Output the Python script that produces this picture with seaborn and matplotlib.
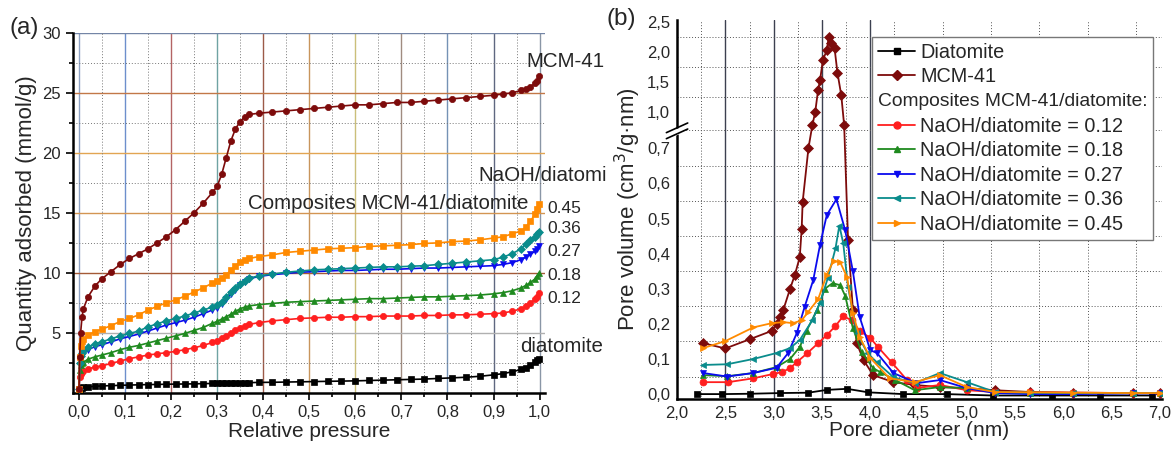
import numpy as np
import matplotlib
matplotlib.use("Agg")
import matplotlib.pyplot as plt
from matplotlib.ticker import FuncFormatter, FixedLocator
from matplotlib.lines import Line2D
from matplotlib.patches import Rectangle
import seaborn as sns

# ---------------- (a) N2 isotherms ----------------
p_rel = [0.0005, 0.002, 0.004, 0.007, 0.01, 0.02, 0.035, 0.05, 0.07, 0.09, 0.11, 0.13, 0.15, 0.17,
         0.19, 0.21, 0.23, 0.25, 0.27, 0.29, 0.30, 0.31, 0.32, 0.33, 0.34, 0.35, 0.36, 0.37, 0.39,
         0.42, 0.45, 0.48, 0.51, 0.54, 0.57, 0.60, 0.63, 0.66, 0.69, 0.72, 0.75, 0.78, 0.81, 0.84,
         0.87, 0.90, 0.92, 0.94, 0.96, 0.97, 0.98, 0.99, 0.995, 0.999]

q_mcm = [0.3, 3.0, 5.0, 6.3, 7.0, 8.0, 8.9, 9.5, 10.1, 10.7, 11.2, 11.6, 12.0, 12.5,
         13.0, 13.6, 14.3, 15.0, 15.8, 16.7, 17.2, 18.2, 19.6, 21.0, 22.0, 22.6, 23.0, 23.2, 23.3,
         23.4, 23.5, 23.6, 23.7, 23.8, 23.9, 24.0, 24.0, 24.1, 24.2, 24.2, 24.3, 24.4, 24.5, 24.6,
         24.7, 24.8, 24.9, 25.0, 25.2, 25.3, 25.5, 25.8, 26.0, 26.4]
q_045 = [0.3, 3.0, 3.9, 4.3, 4.5, 4.8, 5.1, 5.3, 5.6, 5.95, 6.2, 6.5, 6.9, 7.2,
         7.5, 7.75, 8.05, 8.4, 8.75, 9.15, 9.35, 9.6, 9.85, 10.2, 10.6, 10.9, 11.1, 11.2, 11.35,
         11.5, 11.7, 11.8, 11.9, 12.0, 12.05, 12.1, 12.2, 12.25, 12.3, 12.35, 12.45, 12.5, 12.6, 12.65,
         12.75, 12.9, 13.0, 13.25, 13.5, 13.8, 14.3, 14.9, 15.3, 15.7]
q_036 = [0.3, 2.5, 3.1, 3.3, 3.5, 3.8, 4.1, 4.25, 4.5, 4.75, 4.95, 5.15, 5.5, 5.75,
         6.0, 6.2, 6.4, 6.65, 6.9, 7.15, 7.35, 7.6, 8.0, 8.4, 8.75, 9.05, 9.35, 9.55, 9.75,
         9.9, 10.05, 10.15, 10.25, 10.3, 10.35, 10.4, 10.45, 10.5, 10.5, 10.55, 10.6, 10.7, 10.8, 10.9,
         11.0, 11.1, 11.3, 11.6, 12.0, 12.4, 12.7, 13.0, 13.2, 13.4]
q_027 = [0.3, 2.3, 2.9, 3.1, 3.3, 3.6, 3.85, 4.0, 4.25, 4.5, 4.7, 4.9, 5.15, 5.4,
         5.65, 5.85, 6.05, 6.3, 6.6, 6.9, 7.1, 7.4, 7.8, 8.2, 8.6, 8.95, 9.25, 9.5, 9.7,
         9.85, 9.95, 10.05, 10.1, 10.15, 10.2, 10.2, 10.25, 10.3, 10.3, 10.35, 10.4, 10.4, 10.45, 10.5,
         10.55, 10.6, 10.7, 10.85, 11.1, 11.3, 11.55, 11.8, 12.0, 12.2]
q_018 = [0.3, 1.9, 2.3, 2.45, 2.55, 2.8, 3.0, 3.15, 3.35, 3.6, 3.8, 3.95, 4.15, 4.35,
         4.55, 4.75, 4.95, 5.2, 5.45, 5.8, 5.95, 6.15, 6.35, 6.55, 6.8, 7.0, 7.15, 7.25, 7.35,
         7.45, 7.55, 7.6, 7.65, 7.7, 7.75, 7.8, 7.85, 7.85, 7.9, 7.95, 8.0, 8.0, 8.05, 8.1,
         8.15, 8.25, 8.35, 8.5, 8.75, 8.95, 9.2, 9.5, 9.75, 10.0]
q_012 = [0.3, 1.3, 1.6, 1.7, 1.8, 2.0, 2.15, 2.25, 2.45, 2.65, 2.85, 3.0, 3.15, 3.25,
         3.35, 3.45, 3.6, 3.75, 3.95, 4.2, 4.35, 4.55, 4.75, 5.0, 5.2, 5.4, 5.55, 5.7, 5.85,
         6.0, 6.1, 6.2, 6.25, 6.3, 6.3, 6.35, 6.35, 6.4, 6.4, 6.4, 6.45, 6.45, 6.5, 6.5,
         6.55, 6.6, 6.65, 6.8, 7.0, 7.2, 7.5, 7.8, 8.0, 8.3]
q_diat = [0.1, 0.3, 0.38, 0.42, 0.45, 0.5, 0.55, 0.58, 0.6, 0.63, 0.65, 0.67, 0.69, 0.7,
          0.72, 0.73, 0.74, 0.75, 0.77, 0.78, 0.79, 0.8, 0.8, 0.81, 0.82, 0.83, 0.84, 0.85, 0.87,
          0.88, 0.9, 0.92, 0.94, 0.96, 0.98, 1.0, 1.03, 1.06, 1.09, 1.12, 1.15, 1.2, 1.25, 1.3,
          1.38, 1.5, 1.6, 1.75, 1.95, 2.1, 2.3, 2.55, 2.7, 2.85]

# ---------------- (b) pore size distributions ----------------
d_diat = [2.21, 2.47, 2.76, 3.07, 3.36, 3.55, 3.76, 3.98, 4.34, 4.79, 5.27, 5.88, 6.38, 6.92]
v_diat = [0.0, 0.0, 0.001, 0.003, 0.004, 0.012, 0.015, 0.005, 0.0, 0.0, -0.004, -0.004, -0.004, -0.004]

d_mcm = [2.27, 2.50, 2.76, 2.98, 3.03, 3.07, 3.10, 3.17, 3.22, 3.27, 3.29, 3.30, 3.36, 3.40, 3.43,
         3.46, 3.48, 3.51, 3.55, 3.57, 3.59, 3.63, 3.66, 3.70, 3.73, 3.77, 3.82, 3.86, 3.93, 4.03,
         4.24, 4.46, 4.72, 5.0, 5.29, 5.65, 6.10, 6.72, 7.0]
v_mcm = [0.145, 0.13, 0.157, 0.18, 0.20, 0.22, 0.24, 0.30, 0.34, 0.39, 0.47, 0.547, 0.70, 0.89, 1.0,
         1.37, 1.53, 1.87, 2.03, 2.25, 2.15, 2.07, 1.66, 1.28, 0.89, 0.44, 0.24, 0.145, 0.097, 0.054,
         0.034, 0.026, 0.02, 0.017, 0.011, 0.006, 0.004, 0.003, 0.003]

d_012 = [2.27, 2.53, 2.79, 2.99, 3.09, 3.17, 3.24, 3.35, 3.46, 3.55, 3.64, 3.72, 3.81, 3.89, 4.0,
         4.08, 4.22, 4.38, 4.48, 4.72, 5.0, 5.29, 5.65, 6.10, 6.72, 7.0]
v_012 = [0.034, 0.034, 0.045, 0.057, 0.063, 0.074, 0.091, 0.117, 0.145, 0.168, 0.194, 0.222, 0.21, 0.18, 0.16,
         0.134, 0.091, 0.04, 0.017, 0.026, 0.011, 0.006, 0.005, 0.004, 0.003, 0.003]

d_018 = [2.27, 2.52, 2.79, 3.03, 3.17, 3.27, 3.34, 3.45, 3.53, 3.61, 3.69, 3.74, 3.82, 3.91, 4.03,
         4.10, 4.26, 4.46, 4.72, 5.0, 5.29, 5.65, 6.10, 6.72, 7.0]
v_018 = [0.054, 0.051, 0.06, 0.077, 0.10, 0.134, 0.18, 0.24, 0.30, 0.316, 0.31, 0.28, 0.188, 0.12, 0.074,
         0.063, 0.04, 0.011, 0.02, 0.017, 0.006, 0.004, 0.003, 0.003, 0.003]

d_027 = [2.27, 2.52, 2.79, 3.03, 3.15, 3.24, 3.32, 3.41, 3.48, 3.55, 3.65, 3.74, 3.82, 3.89, 4.0,
         4.07, 4.24, 4.48, 4.72, 5.0, 5.29, 5.65, 6.10, 6.72, 7.0]
v_027 = [0.06, 0.05, 0.06, 0.075, 0.117, 0.174, 0.248, 0.325, 0.425, 0.51, 0.555, 0.467, 0.35, 0.22, 0.125,
         0.117, 0.06, 0.031, 0.04, 0.017, 0.003, 0.0, 0.0, 0.002, 0.002]

d_036 = [2.27, 2.52, 2.79, 3.03, 3.17, 3.27, 3.40, 3.48, 3.56, 3.64, 3.68, 3.72, 3.77, 3.86, 3.97,
         4.07, 4.24, 4.46, 4.72, 5.0, 5.29, 5.65, 6.10, 6.72, 7.0]
v_036 = [0.083, 0.085, 0.10, 0.117, 0.131, 0.154, 0.21, 0.26, 0.33, 0.415, 0.48, 0.43, 0.305, 0.174, 0.117,
         0.09, 0.048, 0.031, 0.06, 0.034, 0.006, 0.004, 0.003, 0.003, 0.003]

d_045 = [2.27, 2.50, 2.79, 2.98, 3.10, 3.20, 3.29, 3.36, 3.46, 3.55, 3.62, 3.69, 3.76, 3.82, 3.89,
         4.0, 4.2, 4.46, 4.72, 5.0, 5.29, 5.65, 6.10, 6.72, 7.0]
v_045 = [0.131, 0.151, 0.19, 0.202, 0.205, 0.202, 0.21, 0.235, 0.27, 0.34, 0.38, 0.375, 0.333, 0.23, 0.163,
         0.103, 0.045, 0.034, 0.054, 0.02, 0.006, 0.005, 0.004, 0.003, 0.003]

ratio_labels = ['0.12', '0.18', '0.27', '0.36', '0.45']

c_diat, c_mcm = '#000000', '#7d0b0b'
c_comp = ['#ff1f1f', '#1f8a1f', '#0a0aee', '#0a8c8c', '#ff8a00']

sns.set_style("white")
plt.rcParams['font.family'] = ['Liberation Sans', 'DejaVu Sans']

fig = plt.figure(figsize=(11.74, 4.5), dpi=100)
ax1 = fig.add_axes([0.062, 0.127, 0.402, 0.80])
ax2 = fig.add_axes([0.5767, 0.1133, 0.4131, 0.8423])

comma = FuncFormatter(lambda v, pos: f"{v:.1f}".replace('.', ','))
TICK_FS, LAB_FS, YLAB_FS, ANN_FS = 12, 15, 16, 14.8

# ---------- panel (a) ----------
vcols = ['#8fa3c4', '#6d8fcc', '#b36464', '#6fa3a3', '#9c5a48', '#c8955c', '#cbbf7a',
         '#a08c80', '#7592b5', '#5f6780', '#8a96a6']
for xv, c in zip(np.arange(0, 1.01, 0.1), vcols):
    ax1.axvline(xv, color=c, lw=1.0, zorder=0)
hcols = ['#b0b0b0', '#a45a36', '#d39552', '#e2a552', '#c27848', '#7485a6']
for yv, c in zip(range(5, 31, 5), hcols):
    ax1.axhline(yv, color=c, lw=1.0, zorder=0)
for xv in np.arange(0.05, 1.0, 0.1):
    ax1.axvline(xv, color='#777777', lw=0.7, ls=(0, (1, 2)), zorder=0)
for yv in np.arange(2.5, 30, 5):
    ax1.axhline(yv, color='#777777', lw=0.7, ls=(0, (1, 2)), zorder=0)

iso = [(q_diat, c_diat, 's'), (q_012, c_comp[0], 'o'), (q_018, c_comp[1], '^'),
       (q_027, c_comp[2], 'v'), (q_036, c_comp[3], 'D'), (q_045, c_comp[4], 's'),
       (q_mcm, c_mcm, 'o')]
for q, c, m in iso:
    sns.lineplot(x=p_rel, y=q, ax=ax1, color=c, marker=m, markersize=4.5, mec=c, mew=0.5,
                 lw=1.2, sort=False, legend=False, zorder=3)

ax1.set_xlim(-0.013, 1.011)
ax1.set_ylim(0, 30)
ax1.xaxis.set_major_locator(FixedLocator(np.round(np.arange(0, 1.01, 0.1), 2)))
ax1.xaxis.set_minor_locator(FixedLocator(np.arange(0.05, 1.0, 0.1)))
ax1.yaxis.set_major_locator(FixedLocator(range(5, 31, 5)))
ax1.yaxis.set_minor_locator(FixedLocator(np.arange(2.5, 30, 5)))
ax1.xaxis.set_major_formatter(comma)
ax1.tick_params(which='both', direction='out', labelsize=TICK_FS, width=1.2, color='black')
ax1.tick_params(which='major', length=5)
ax1.tick_params(which='minor', length=3)
ax1.tick_params(axis='both', which='both', bottom=True, left=True)
for s in ['top', 'right']:
    ax1.spines[s].set_visible(False)
for s in ['left', 'bottom']:
    ax1.spines[s].set_color('black')
    ax1.spines[s].set_linewidth(1.8)
ax1.set_xlabel('Relative pressure', fontsize=LAB_FS, labelpad=2)
ax1.set_ylabel('Quantity adsorbed (mmol/g)', fontsize=YLAB_FS, labelpad=4)

ax1.text(0.972, 27.6, 'MCM-41', fontsize=ANN_FS, va='center', ha='left')
ax1.text(0.868, 18.1, 'NaOH/diatomi', fontsize=ANN_FS, va='center', ha='left')
ax1.text(0.976, 15.75, 'Composites MCM-41/diatomite', fontsize=ANN_FS, va='center', ha='right')
for lab, yv in zip(ratio_labels[::-1], [15.4, 13.7, 11.75, 9.75, 7.85]):
    ax1.text(1.017, yv, lab, fontsize=12.5, va='center', ha='left')
ax1.text(0.957, 3.9, 'diatomite', fontsize=ANN_FS, va='center', ha='left')
fig.text(0.008, 0.937, '(a)', fontsize=17.5, va='center', ha='left')

# ---------- panel (b), broken y-axis ----------
A = 0.103 / 0.3
B = 0.171


def fwd(v):
    v = np.asarray(v, dtype=float)
    return np.where(v <= 0.7, v, np.where(v <= 1.0, 0.7 + (v - 0.7) * A, 0.803 + (v - 1.0) * B))


def inv(f):
    f = np.asarray(f, dtype=float)
    return np.where(f <= 0.7, f, np.where(f <= 0.803, 0.7 + (f - 0.7) / A, 1.0 + (f - 0.803) / B))


ax2.set_yscale('function', functions=(fwd, inv))
ax2.set_xlim(2.0, 7.02)
ax2.set_ylim(-0.014, 2.535)

for xv in [2.5, 3.0, 3.5, 4.0]:
    ax2.axvline(xv, color='#3c4050', lw=1.0, zorder=0)
for xv in np.arange(2.25, 7.0, 0.5):
    ax2.axvline(xv, color='#555555', lw=0.7, ls=(0, (1, 2)), zorder=0)
for yv in list(np.arange(0.05, 0.7, 0.1)) + [0.85, 1.25, 1.75, 2.25]:
    ax2.axhline(yv, color='#555555', lw=0.7, ls=(0, (1, 2)), zorder=0)

psd = [(d_diat, v_diat, c_diat, 's', 'Diatomite'),
       (d_mcm, v_mcm, c_mcm, 'D', 'MCM-41'),
       (d_012, v_012, c_comp[0], 'o', 'NaOH/diatomite = ' + ratio_labels[0]),
       (d_018, v_018, c_comp[1], '^', 'NaOH/diatomite = ' + ratio_labels[1]),
       (d_027, v_027, c_comp[2], 'v', 'NaOH/diatomite = ' + ratio_labels[2]),
       (d_036, v_036, c_comp[3], '<', 'NaOH/diatomite = ' + ratio_labels[3]),
       (d_045, v_045, c_comp[4], '>', 'NaOH/diatomite = ' + ratio_labels[4])]
handles = []
for d, v, c, m, lab in psd:
    sns.lineplot(x=d, y=v, ax=ax2, color=c, marker=m, markersize=5, mec=c, mew=0.5,
                 lw=1.3, sort=False, legend=False, zorder=3)
    handles.append(Line2D([], [], color=c, marker=m, markersize=5, mec=c, lw=1.3, label=lab))

ax2.xaxis.set_major_locator(FixedLocator(np.arange(2.0, 7.01, 0.5)))
ax2.yaxis.set_major_locator(FixedLocator([0, 0.1, 0.2, 0.3, 0.4, 0.5, 0.6, 0.7, 1.0, 1.5, 2.0, 2.5]))
ax2.yaxis.set_minor_locator(FixedLocator([]))
ax2.xaxis.set_major_formatter(comma)
ax2.yaxis.set_major_formatter(comma)
ax2.tick_params(which='both', length=0, labelsize=TICK_FS, pad=5)
for s in ['top', 'right']:
    ax2.spines[s].set_visible(False)
for s in ['left', 'bottom']:
    ax2.spines[s].set_color('black')
    ax2.spines[s].set_linewidth(1.8)
ax2.set_xlabel('Pore diameter (nm)', fontsize=LAB_FS, labelpad=0)
ax2.set_ylabel('Pore volume (cm$^3$/g·nm)', fontsize=YLAB_FS, labelpad=3)

# break symbol on the y axis
ytr = ax2.get_yaxis_transform()
ax2.fill([-0.01, 0.01, 0.01, -0.01], [0.80, 0.83, 0.87, 0.84], color='white',
         transform=ytr, clip_on=False, zorder=5)
ax2.plot([-0.022, 0.022], [0.78, 0.86], color='black', lw=1.2, transform=ytr, clip_on=False, zorder=6)
ax2.plot([-0.022, 0.022], [0.83, 0.91], color='black', lw=1.2, transform=ytr, clip_on=False, zorder=6)

handles.insert(2, Line2D([], [], color='none', label=' '))
leg_fs = 14.3
leg = ax2.legend(handles=handles, loc='upper left', bbox_to_anchor=(0.743, 0.918),
                 bbox_transform=fig.transFigure, borderaxespad=0, fontsize=leg_fs,
                 frameon=False, handlelength=1.85, handletextpad=0.26, labelspacing=0.28,
                 borderpad=0.3)
leg.set_zorder(7)
fig.text(0.517, 0.957, '(b)', fontsize=17.5, va='center', ha='left')

fig.canvas.draw()
rend = fig.canvas.get_renderer()
W, H = fig.get_size_inches() * fig.dpi
leg_bb = leg.get_window_extent(rend)
tb1 = leg.get_texts()[1].get_window_extent(rend)
tb3 = leg.get_texts()[3].get_window_extent(rend)
yc = ((tb1.y0 + tb1.y1) / 2 + (tb3.y0 + tb3.y1) / 2) / 2
x0 = leg_bb.x0 + leg.borderpad * leg_fs * fig.dpi / 72
comp = ax2.text(x0 / W, yc / H, 'Composites MCM-41/diatomite:', fontsize=13.9, va='center',
                ha='left', transform=fig.transFigure, zorder=8)
cb = comp.get_window_extent(rend)
rx1 = max(leg_bb.x1, cb.x1 + 5)
ax2.add_patch(Rectangle((leg_bb.x0 / W, leg_bb.y0 / H), (rx1 - leg_bb.x0) / W, leg_bb.height / H,
                        transform=fig.transFigure, facecolor='white', edgecolor='#777777',
                        lw=1.0, clip_on=False, zorder=6.5))

plt.savefig('out.png', dpi=100)
